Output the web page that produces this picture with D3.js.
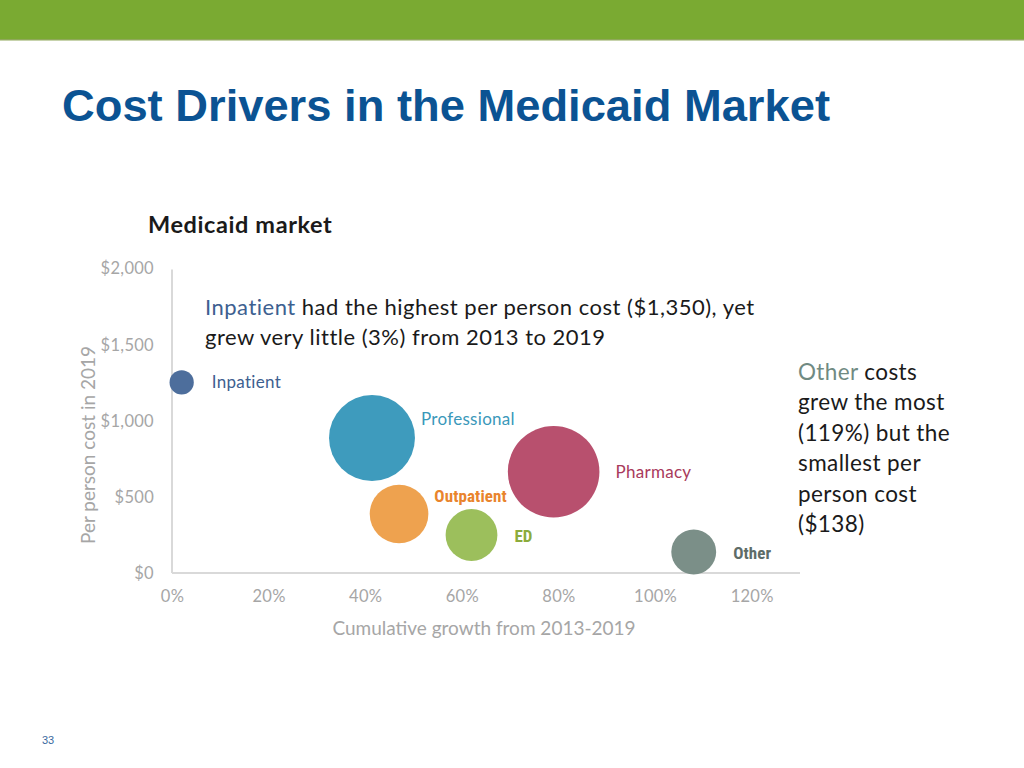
<!DOCTYPE html>
<html>
<head>
<meta charset="utf-8">
<script src="https://cdn.jsdelivr.net/npm/d3@7"></script>
<style>
  html, body { margin: 0; padding: 0; background: #fff; }
  svg { display: block; }
</style>
</head>
<body>
<svg id="chart" width="1024" height="768"></svg>
<script>
// ---- data ----
const categories = ["Inpatient", "Professional", "Outpatient", "ED", "Pharmacy", "Other"];
const growth     = [0.02, 0.414, 0.47, 0.62, 0.79, 1.08];      // cumulative growth 2013-2019
const cost       = [1250, 885, 387, 249, 664, 138];           // per person cost in 2019 ($)
const bubbleSize = [7, 88, 41, 32, 100, 24];                  // relative bubble size
const xTicks     = [0, 0.2, 0.4, 0.6, 0.8, 1.0, 1.2];
const yTicks     = [0, 500, 1000, 1500, 2000];

// ---- styles ----
const fillColor  = ["#4d6e9c", "#3e9bbd", "#eea24f", "#9cbf5c", "#b8506e", "#7b8f88"];
const labelColor = ["#3d6090", "#3a98ba", "#e9842c", "#8cab3c", "#a93a5c", "#5e6c68"];
const labelBold  = [false, false, true, true, false, true];
const labelLayout = { // offset from bubble right edge / centre
  Inpatient:   { dx: 18, dy: 0 },
  Professional:{ dx: 6,  dy: -19 },
  Outpatient:  { dx: 6,  dy: -18 },
  ED:          { dx: 17, dy: 1 },
  Pharmacy:    { dx: 16, dy: 0 },
  Other:       { dx: 17, dy: 1 }
};

const svg = d3.select("#chart");
const body = "Lato, 'Open Sans', sans-serif";

// header bar
svg.append("rect").attr("x", 0).attr("y", 0).attr("width", 1024).attr("height", 40).attr("fill", "#7aaa32");
svg.append("rect").attr("x", 0).attr("y", 39).attr("width", 1024).attr("height", 1.5).attr("fill", "#8fa85a");

// title
svg.append("text")
  .attr("x", 62).attr("y", 121)
  .attr("font-family", "'Liberation Sans', Arial, sans-serif")
  .attr("font-weight", "bold").attr("font-size", 45)
  .attr("fill", "#0b5393")
  .attr("textLength", 768).attr("lengthAdjust", "spacingAndGlyphs")
  .text("Cost Drivers in the Medicaid Market");

// chart subtitle
svg.append("text")
  .attr("x", 148).attr("y", 233)
  .attr("font-family", body).attr("font-weight", "bold").attr("font-size", 23.5)
  .attr("letter-spacing", 0.6)
  .attr("fill", "#1a1a1a")
  .text("Medicaid market");

// scales
const x = d3.scaleLinear().domain([0, 1.3]).range([172, 800]);
const y = d3.scaleLinear().domain([0, 2000]).range([573, 268]);
const r = d3.scaleSqrt().domain([0, d3.max(bubbleSize)]).range([0, 45.8]);

// axes
const xAxis = d3.axisBottom(x).tickValues(xTicks).tickFormat(d3.format(".0%")).tickSize(0).tickPadding(17);
const yAxis = d3.axisLeft(y).tickValues(yTicks).tickFormat(d => "$" + d3.format(",")(d)).tickSize(0).tickPadding(18);

const gx = svg.append("g").attr("transform", `translate(0,${y(0)})`).call(xAxis);
const gy = svg.append("g").attr("transform", `translate(${x(0)},0)`).call(yAxis);
[gx, gy].forEach(g => {
  g.select(".domain").attr("stroke", "#d9d9d9").attr("stroke-width", 2);
  g.selectAll("text").attr("font-family", body).attr("font-size", 16.5)
    .attr("letter-spacing", 0.3).attr("fill", "#a6a6a6");
});
gx.select(".domain").attr("d", `M${x(0)},0H${x(1.3)}`);
gy.select(".domain").attr("d", `M0,${y(0)}V${y(1990)}`);
gy.selectAll("text").attr("dy", "0.35em");

// axis titles
svg.append("text")
  .attr("x", 484).attr("y", 635)
  .attr("text-anchor", "middle")
  .attr("font-family", body).attr("font-size", 19).attr("fill", "#a6a6a6")
  .text("Cumulative growth from 2013-2019");
svg.append("text")
  .attr("transform", "translate(95,445) rotate(-90)")
  .attr("text-anchor", "middle")
  .attr("font-family", body).attr("font-size", 19).attr("fill", "#a6a6a6")
  .text("Per person cost in 2019");

// bubbles
const data = categories.map((c, i) => ({
  name: c, gx: growth[i], cy: cost[i], size: bubbleSize[i],
  fill: fillColor[i], lc: labelColor[i], bold: labelBold[i]
}));

svg.append("g").selectAll("circle").data(data).join("circle")
  .attr("cx", d => x(d.gx))
  .attr("cy", d => y(d.cy))
  .attr("r", d => r(d.size))
  .attr("fill", d => d.fill);

svg.append("g").selectAll("text").data(data).join("text")
  .attr("x", d => x(d.gx) + r(d.size) + labelLayout[d.name].dx)
  .attr("y", d => y(d.cy) + labelLayout[d.name].dy)
  .attr("dy", "0.35em")
  .attr("font-family", d => d.bold ? "'Liberation Sans Narrow', 'Roboto Condensed', Lato, sans-serif" : body)
  .attr("font-weight", d => d.bold ? "bold" : "normal")
  .attr("font-size", 17)
  .attr("letter-spacing", d => d.bold ? 0.1 : 0.3)
  .attr("fill", d => d.lc)
  .text(d => d.name);

// annotation top
const ann = svg.append("text")
  .attr("font-family", body).attr("font-size", 22).attr("letter-spacing", 0.5).attr("fill", "#1a1a1a");
const l1 = ann.append("tspan").attr("x", 205).attr("y", 315);
l1.append("tspan").attr("fill", "#3d6090").text("Inpatient");
l1.append("tspan").text(" had the highest per person cost ($1,350), yet");
ann.append("tspan").attr("x", 205).attr("y", 345).text("grew very little (3%) from 2013 to 2019");

// annotation right
const rightLines = ["costs", "grew the most", "(119%) but the", "smallest per", "person cost", "($138)"];
const ra = svg.append("text")
  .attr("font-family", body).attr("font-size", 22.5).attr("letter-spacing", 0.4).attr("fill", "#1a1a1a");
rightLines.forEach((t, i) => {
  const ts = ra.append("tspan").attr("x", 798).attr("y", 380 + i * 30.4);
  if (i === 0) {
    ts.append("tspan").attr("fill", "#708a82").text("Other ");
    ts.append("tspan").text(t);
  } else ts.text(t);
});

// page number
svg.append("text")
  .attr("x", 42).attr("y", 744)
  .attr("font-family", "'Liberation Sans', Arial, sans-serif").attr("font-size", 11)
  .attr("fill", "#3a6aa0")
  .text("33");
</script>
</body>
</html>
